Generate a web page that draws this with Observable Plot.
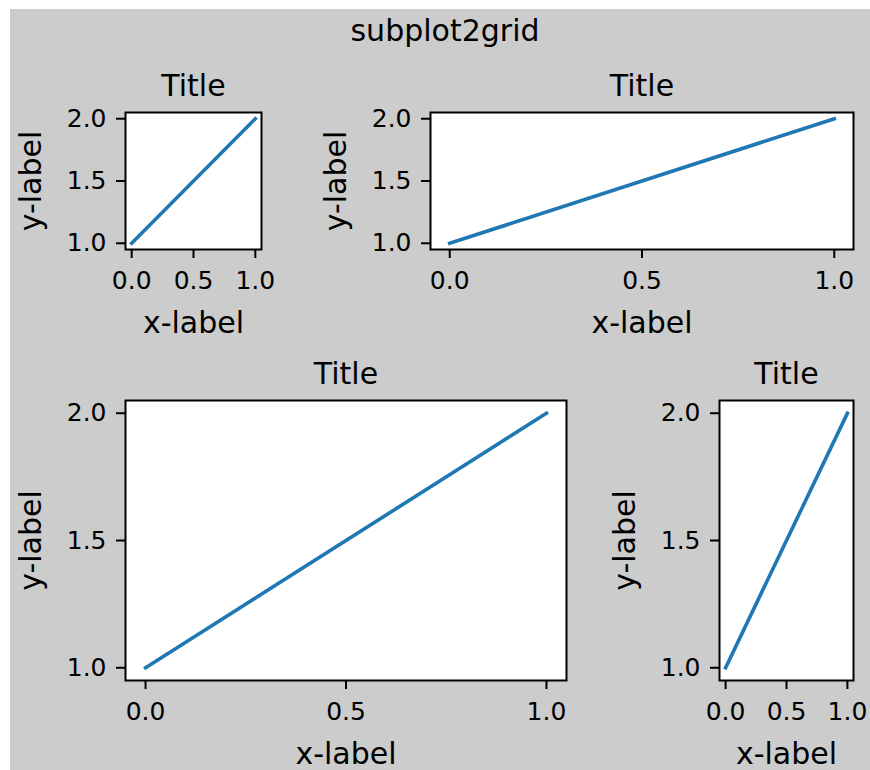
<!DOCTYPE html>
<html>
<head>
<meta charset="utf-8">
<script src="https://cdn.jsdelivr.net/npm/d3@7"></script>
<script src="https://cdn.jsdelivr.net/npm/@observablehq/plot@0.6"></script>
<style>
  html, body { margin: 0; padding: 0; background: #ffffff; width: 870px; height: 770px; overflow: hidden; }
  #fig { position: absolute; left: 10px; top: 9px; width: 860px; height: 761px; background: #cccccc; }
  .panel { position: absolute; }
  #sup { position: absolute; left: 0; width: 890px; text-align: center; font-family: "DejaVu Sans", sans-serif;
         font-size: 30px; line-height: 30px; color: #000; }
</style>
</head>
<body>
<div id="fig"></div>
<div id="sup"></div>
<script>
// ---- data ----
const xValues = [0, 1];
const yValues = [1, 2];
const xTicks = [0, 0.5, 1];
const yTicks = [1, 1.5, 2];
const suptitle = "subplot2grid";
const panelTitles = ["Title", "Title", "Title", "Title"];
const xLabel = "x-label";
const yLabel = "y-label";

// ---- layout (page px): frame [left, top, right, bottom] ----
const frames = [
  [125, 112, 261, 249],
  [430, 112, 853, 249],
  [125, 400, 566, 680],
  [719, 400, 853, 680]
];

const ML = 120, MR = 12, MT = 60, MB = 90;
const lineColor = "#1f77b4";
const FONT = "DejaVu Sans";

const data = xValues.map((x, i) => ({x, y: yValues[i]}));
const pad = (ext) => { const d = (ext[1] - ext[0]) * 0.05; return [ext[0] - d, ext[1] + d]; };
const xDomain = pad(d3.extent(xValues));
const yDomain = pad(d3.extent(yValues));

const sup = document.getElementById("sup");
sup.textContent = suptitle;
sup.style.top = (41 - 25.4) + "px";

frames.forEach((f, i) => {
  const [L, T, R, B] = f;
  const chart = Plot.plot({
    width: (R - L) + ML + MR,
    height: (B - T) + MT + MB,
    marginLeft: ML, marginRight: MR, marginTop: MT, marginBottom: MB,
    style: {background: "transparent", fontFamily: FONT, fontSize: "25px", color: "#000", overflow: "visible"},
    x: {domain: xDomain},
    y: {domain: yDomain},
    marks: [
      Plot.frame({fill: "white", stroke: null}),
      Plot.line(data, {x: "x", y: "y", stroke: lineColor, strokeWidth: 3.6, strokeLinecap: "square"}),
      Plot.frame({stroke: "#000", strokeWidth: 2}),
      Plot.axisX({ticks: xTicks, tickFormat: d3.format(".1f"), tickSize: 9, tickPadding: 13,
                  strokeWidth: 2, fontSize: 25, label: null}),
      Plot.axisY({ticks: yTicks, tickFormat: d3.format(".1f"), tickSize: 9, tickPadding: 10,
                  strokeWidth: 2, fontSize: 25, label: null}),
      Plot.text([panelTitles[i]], {frameAnchor: "top", text: d => d, dy: -17, lineAnchor: "bottom",
                  fontSize: 30, fill: "#000"}),
      Plot.text([xLabel], {frameAnchor: "bottom", text: d => d, dy: 83, lineAnchor: "bottom",
                  fontSize: 30, fill: "#000"}),
      Plot.text([yLabel], {frameAnchor: "left", text: d => d, dx: -85, rotate: -90, lineAnchor: "bottom",
                  textAnchor: "middle", fontSize: 30, fill: "#000"})
    ]
  });
  chart.classList.add("panel");
  chart.style.left = (L - ML) + "px";
  chart.style.top = (T - MT) + "px";
  chart.style.maxWidth = "none";
  document.body.appendChild(chart);
});
</script>
</body>
</html>
